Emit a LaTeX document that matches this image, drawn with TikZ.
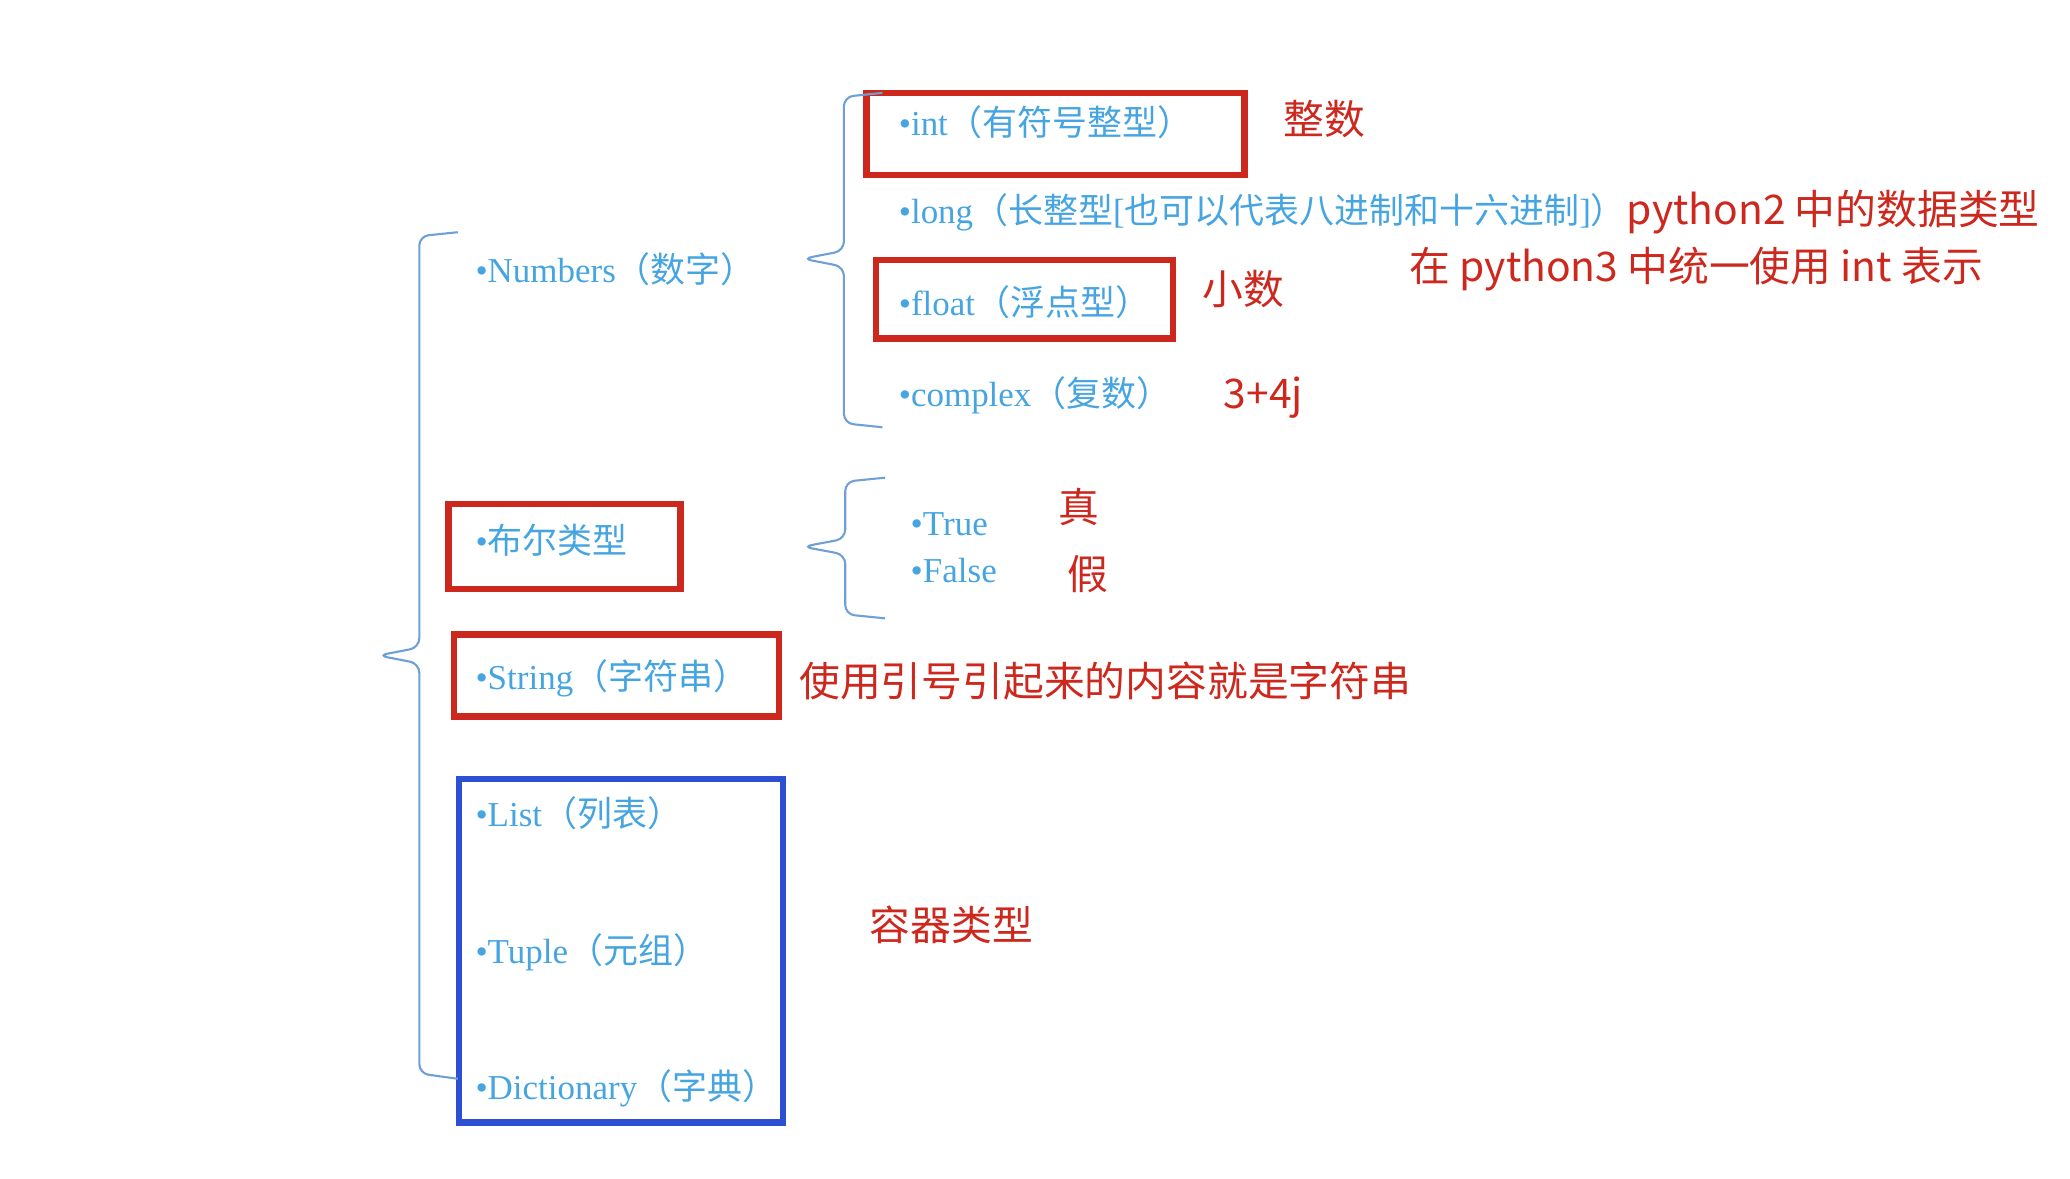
\documentclass[tikz,border=0pt]{standalone}
\usepackage{fontspec}
\setmainfont{Liberation Serif}
\newfontfamily\cjk{Noto Sans CJK SC}
\definecolor{bl}{RGB}{70,165,225}
\definecolor{rd}{RGB}{205,40,30}
\definecolor{bb}{RGB}{45,80,210}
\definecolor{br}{RGB}{110,160,215}
\tikzset{
 bt/.style={anchor=west,inner sep=0pt,text=bl,font=\fontsize{15}{18}\selectfont},
 rt/.style={anchor=west,inner sep=0pt,text=rd,font=\cjk\fontsize{17.5}{21}\selectfont},
 rbox/.style={draw=rd,line width=2.8pt},
 bbox/.style={draw=bb,line width=2.8pt},
 brc/.style={draw=br,line width=0.9pt,rounded corners=4pt}
}
\begin{document}
\begin{tikzpicture}[x=0.02cm,y=-0.02cm]
\useasboundingbox (0,0) rectangle (1560,888);
% boxes
\draw[rbox] (653,70) rectangle (938,132);
\draw[rbox] (660,196) rectangle (884,255);
\draw[rbox] (338,380) rectangle (513,444);
\draw[rbox] (342,478) rectangle (587,540);
\draw[bbox] (346,587) rectangle (590,846);
% braces
\draw[brc] (345,175) -- (316,178) -- (316,488) -- (285,494) -- (316,500) -- (316,809) -- (345,813);
\draw[brc] (665,70) -- (636,73) -- (636,189) -- (605,195) -- (636,201) -- (636,319) -- (665,322);
\draw[brc] (667,360) -- (637,363) -- (637,406) -- (605,412) -- (637,418) -- (637,463) -- (667,466);
% blue texts
\node[bt] (num) at (358,203) {•Numbers{\cjk（数字）}};
\node[bt] (int) at (677,92) {•int{\cjk（有符号整型）}};
\node[bt] (long) at (677,160) {•long{\cjk（长整型}[{\cjk 也可以代表八进制和十六进制}]{\cjk ）}};
\node[bt] (float) at (677,228) {•float{\cjk（浮点型）}};
\node[bt] (cplx) at (677,298) {•complex{\cjk（复数）}};
\node[bt] (bool) at (358,407) {•{\cjk 布尔类型}};
\node[bt] (true) at (686,395) {•True};
\node[bt] (false) at (686,430) {•False};
\node[bt] (str) at (358,511) {•String{\cjk（字符串）}};
\node[bt] (list) at (358,613) {•List{\cjk（列表）}};
\node[bt] (tup) at (358,718) {•Tuple{\cjk（元组）}};
\node[bt] (dict) at (358,820) {•Dictionary{\cjk（字典）}};
% red texts
\node[rt] (zs) at (967,90) {整数};
\node[rt] (py2) at (long.east) {python2 中的数据类型};
\node[rt] (py3) at (1062,203) {在 python3 中统一使用 int 表示};
\node[rt] (xs) at (906,218) {小数};
\node[rt] (cx) at (922,300) {3+4j};
\node[rt] (zhen) at (797,382) {真};
\node[rt] (jia) at (804,433) {假};
\node[rt] (strd) at (602,513) {使用引号引起来的内容就是字符串};
\node[rt] (rq) at (655,697) {容器类型};
\end{tikzpicture}
\end{document}
